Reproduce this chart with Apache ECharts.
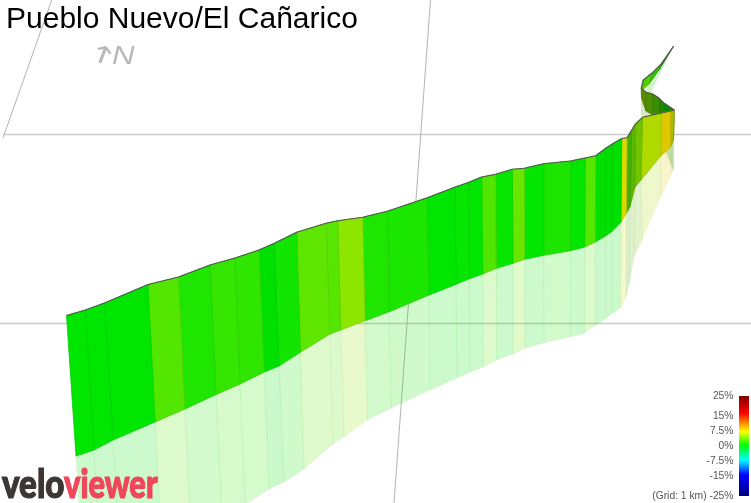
<!DOCTYPE html>
<html>
<head>
<meta charset="utf-8">
<style>html,body{margin:0;padding:0;background:#fff}#c{width:751px;height:503px}</style>
<script src="https://cdn.jsdelivr.net/npm/echarts@6/dist/echarts.min.js"></script>
</head>
<body>
<div id="c"></div>
<script>
const titleText = 'Pueblo Nuevo/El Cañarico';
// Projected route: one entry per station along the climb (in picture units)
const roadX = [66.5,85.5,104.5,148,178.5,210,235,259,274.3,296.7,326,337.7,362.7,387.3,427.3,454.7,468.3,481.7,495.7,512.3,524.3,543.7,570.7,585,595.7,605.7,612.3,621.7,627,631.7,635,642.5,661.5,670.5,674.3,664.3,659.3,652.7,646,641.3,643.3,651.7,661.7,673.7];
const roadY = [315.5,310,303,284.5,277,265,258,250,243.3,232.3,223.3,220.7,217.3,211.3,197.7,187.3,182.5,177,174.3,169.3,168.3,163.7,161,158,155.7,148.3,144,138.5,137.7,130,124.5,117.3,113,111,110,103.3,98.3,94,92.3,88,80,73.3,63.3,46];
const baseX = [76,94,113,155,185,216,240,264.3,279,300.3,330,340.7,365,389.3,429,456,469.3,482.7,496.3,513,524.7,543.7,570.3,584.7,595.3,605.3,611.7,621,626.3,630,635,641,660.7,670.5,673.5,665,660,652.5,646,641.5,642,649,659,673.7];
const baseY = [456,450,440,422,409,394.5,384,372,366,352.3,334,330,320.7,311.7,295,284.3,278.7,274,268.3,263.3,259.3,255.3,250.7,247,242,236,231.7,222,213.5,206.5,187,180,156,147,140,117,120,115,111,98,90,84,70,46];
const shadeX = [84,103,121,162,191,222,245,269,284,304,333,344,367.3,391.3,430,457,470,483,496.7,513,525,544,570.7,584.3,595.7,606,612.3,620.5,626,629.3,634.3,642,660.7,671.5,673.5,665,660,652.5,646,641.5,642,650,659,673.7];
const shadeY = [591,584,571,554,536,518,505,489,482,469,444,437,420,408,390,378,372,367,360,354,348.3,342.7,336.7,333.3,325,318.3,313.3,308,297,283,256,240,197,174,170,150,140,130,125,115,105,95,75,46];
// Gradient (%) of each stretch between stations, and how brightly that wall is lit
const grades = [0,0,0,2.7,1,1.7,1.5,0,0.6,3.1,2.8,4.6,1,0.85,0,0.2,0,2.6,0.2,3.4,0.1,0.9,0.1,2.8,0,0,0,7.5,2.7,3.9,4.3,6.1,8.2,6.9,0,1.8,3,4.2,5,4.1,2.9,1.9,1.5];
const lit =    [.9,.9,.9,.9,.9,.9,.9,.88,.9,.9,.9,.9,.9,.9,.9,.9,.9,.9,.9,.9,.9,.9,.9,.9,.88,.88,.88,.85,.7,.72,.77,.85,.87,.72,.55,.53,.56,.56,.54,.8,.82,.75,.5];
// Background map grid (x1,y1,x2,y2)
const gridRows = [[3,134.5,751,134.5],[0,323.5,751,323.5],[51.7,0,3,138],[430.5,0,394,503]];
// Legend
const legendLabels = ['25%','15%','7.5%','0%','-7.5%','-15%','(Grid: 1 km) -25%'];
const legendY = [396,416,431,446,461,476,496];
const scaleGrades = [-25,-15,-7.5,0,7.5,15,25];
const scaleColors = [[0,0,128],[0,0,255],[0,255,255],[0,255,0],[255,255,0],[255,0,0],[128,0,0]];
const barStops = [[0,'#800000'],[0.17,'#ff0000'],[0.355,'#ffff00'],[0.49,'#00ff00'],[0.64,'#00ffff'],[0.79,'#0000ff'],[1,'#000080']];

function gradeRGB(g){
  for(let i=0;i<scaleGrades.length-1;i++){
    if(g<=scaleGrades[i+1]){
      const t=(g-scaleGrades[i])/(scaleGrades[i+1]-scaleGrades[i]);
      return scaleColors[i].map((c,k)=>c+(scaleColors[i+1][k]-c)*t);
    }
  }
  return scaleColors[scaleColors.length-1];
}
function css(rgb,k,a){return 'rgba('+rgb.map(c=>Math.round(c*k)).join(',')+','+a+')';}

const rows = grades.map((g,i)=>[
  roadX[i],roadY[i],roadX[i+1],roadY[i+1],
  baseX[i+1],baseY[i+1],baseX[i],baseY[i],
  shadeX[i+1],shadeY[i+1],shadeX[i],shadeY[i],g,lit[i]]);
const wallRows = rows.slice().reverse();
const road = roadX.map((x,i)=>[x,roadY[i]]);

function pts(api,idx){return idx.map(p=>api.coord([api.value(p[0]),api.value(p[1])]));}
function renderWall(params,api){
  const rgb=gradeRGB(api.value(12)),k=api.value(13);
  return {type:'polygon',shape:{points:pts(api,[[0,1],[2,3],[4,5],[6,7]])},
    style:{fill:css(rgb,k,1),stroke:css(rgb,k*0.9,1),lineWidth:0.8}};
}
function renderShade(params,api){
  const rgb=gradeRGB(api.value(12)),k=api.value(13);
  return {type:'polygon',shape:{points:pts(api,[[6,7],[4,5],[8,9],[10,11]])},
    style:{fill:css(rgb,k,0.2),stroke:css(rgb,k*0.8,0.05),lineWidth:1}};
}
function renderGrid(params,api){
  const a=api.coord([api.value(0),api.value(1)]),b=api.coord([api.value(2),api.value(3)]);
  const flat=a[1]===b[1];
  return {type:'line',shape:{x1:a[0],y1:a[1],x2:b[0],y2:b[1]},
    style:{stroke:flat?'#cccccc':'#b4b4b4',lineWidth:flat?1.4:1}};
}
const chart = echarts.init(document.getElementById('c'),null,{renderer:'canvas'});
chart.setOption({
  animation:false,
  backgroundColor:'#fff',
  title:{text:titleText,left:1,top:0,textStyle:{fontFamily:'Liberation Sans',fontSize:30,fontWeight:'normal',color:'#000'}},
  grid:{left:0,right:0,top:0,bottom:0},
  xAxis:{type:'value',min:0,max:751,show:false},
  yAxis:{type:'value',min:0,max:503,inverse:true,show:false},
  series:[
    {type:'custom',z:1,clip:true,silent:true,renderItem:renderGrid,data:gridRows},
    {type:'custom',z:2,clip:true,silent:true,renderItem:renderShade,data:rows},
    {type:'custom',z:3,clip:true,silent:true,renderItem:renderWall,data:wallRows},
    {type:'line',z:4,silent:true,symbol:'none',data:road,lineStyle:{color:'#555',width:1.1}}
  ],
  graphic:[
    {type:'rect',z:10,shape:{x:739,y:396,width:10,height:100},style:{fill:new echarts.graphic.LinearGradient(0,0,0,1,barStops.map(s=>({offset:s[0],color:s[1]})))}},
    ...legendLabels.map((t,i)=>({type:'text',z:10,style:{text:t,x:733.5,y:legendY[i],textAlign:'right',textVerticalAlign:'middle',font:'10.3px "Liberation Sans"',fill:'#555'}})),
    {type:'text',z:10,x:102,y:57,rotation:-0.36,scaleX:1.5,style:{text:'↑',textAlign:'center',textVerticalAlign:'middle',font:'24px "DejaVu Sans"',fill:'#b8b8b8'}},
    {type:'text',z:10,x:112,y:70,scaleX:1.25,style:{text:'N',textAlign:'left',textVerticalAlign:'bottom',font:'italic 25px "Liberation Sans"',fill:'#b8b8b8'}},
    {type:'text',z:10,x:2,y:505,scaleX:0.85,style:{text:'velo',textAlign:'left',textVerticalAlign:'bottom',font:'900 39px Lato',fill:'#3c3634',stroke:'#3c3634',lineWidth:1.2}},
    {type:'text',z:10,x:64,y:505,scaleX:0.79,style:{text:'viewer',textAlign:'left',textVerticalAlign:'bottom',font:'900 39px Lato',fill:'#f0465a',stroke:'#f0465a',lineWidth:1.2}}
  ]
});
</script>
</body>
</html>
